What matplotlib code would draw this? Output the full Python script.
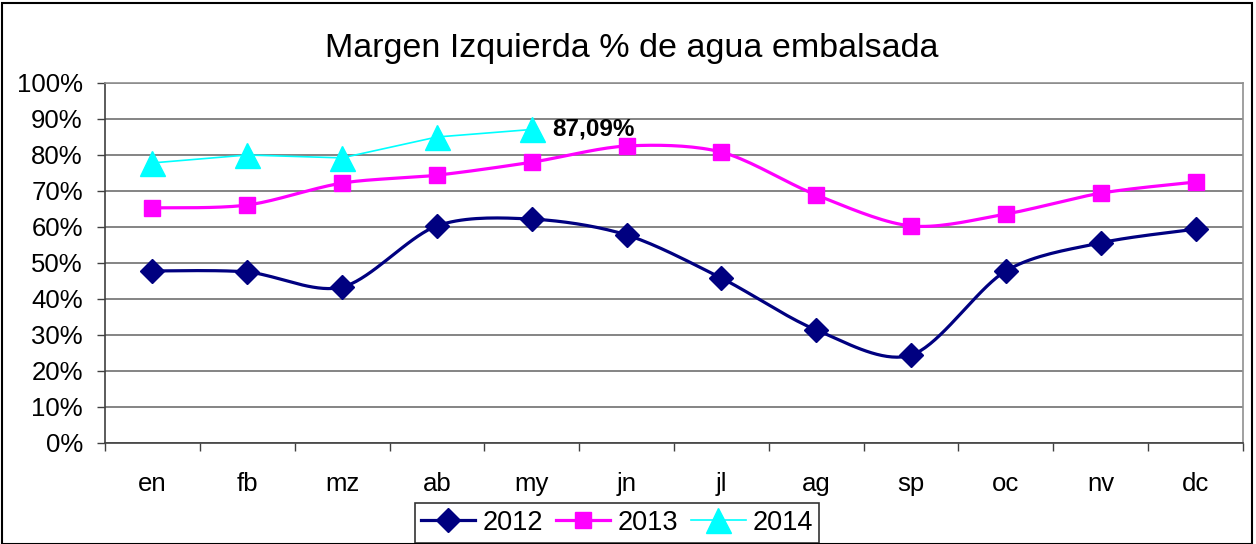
import numpy as np
import matplotlib
matplotlib.use("Agg")
import matplotlib.pyplot as plt
from matplotlib.patches import Rectangle
from matplotlib.lines import Line2D

plt.rcParams['font.family'] = ['Liberation Sans', 'DejaVu Sans']

months = ["en", "fb", "mz", "ab", "my", "jn", "jl", "ag", "sp", "oc", "nv", "dc"]
y2012 = [47.8, 47.5, 43.3, 60.3, 62.2, 57.8, 45.8, 31.4, 24.4, 47.8, 55.6, 59.4]
y2013 = [65.3, 66.1, 72.2, 74.4, 78.0, 82.5, 80.8, 68.9, 60.3, 63.6, 69.4, 72.5]
y2014 = [77.8, 80.0, 79.2, 85.0, 87.09]
yticks = list(range(0, 101, 10))
title = "Margen Izquierda % de agua embalsada"


def smooth(xs, ys, n=20, t=0.45):
    """Bezier rendering curve through the data points (Excel-like smoothing)."""
    xs = np.asarray(xs, float); ys = np.asarray(ys, float)
    px = np.concatenate([[xs[0]], xs, [xs[-1]]])
    py = np.concatenate([[ys[0]], ys, [ys[-1]]])
    ox, oy = [], []
    for i in range(1, len(px) - 2):
        p0 = np.array([px[i - 1], py[i - 1]]); p1 = np.array([px[i], py[i]])
        p2 = np.array([px[i + 1], py[i + 1]]); p3 = np.array([px[i + 2], py[i + 2]])
        c1 = p1 + (p2 - p0) * t / 3
        c2 = p2 - (p3 - p1) * t / 3
        s = np.linspace(0, 1, n)[:, None]
        pts = (1 - s) ** 3 * p1 + 3 * (1 - s) ** 2 * s * c1 + 3 * (1 - s) * s ** 2 * c2 + s ** 3 * p2
        ox.extend(pts[:, 0]); oy.extend(pts[:, 1])
    return ox, oy


W, H = 1256, 544
fig = plt.figure(figsize=(W / 100, H / 100), dpi=100)
fig.patches.append(Rectangle((2 / W, 0), 1 - 6 / W, 1 - 3 / H, transform=fig.transFigure,
                             fill=False, edgecolor="black", linewidth=1.5, zorder=0))

left, right, top, bottom = 105, 1243, 83, 443
ax = fig.add_axes([left / W, 1 - bottom / H, (right - left) / W, (bottom - top) / H])

x = np.arange(len(months))
c12, c13, c14 = "#000080", "#FF00FF", "#00FFFF"

sx, sy = smooth(x, y2012)
ax.plot(sx, sy, color=c12, lw=2.3, zorder=3)
ax.plot(x, y2012, ls="none", marker="D", ms=12, color=c12, zorder=4)

sx, sy = smooth(x, y2013)
ax.plot(sx, sy, color=c13, lw=2.3, zorder=3)
ax.plot(x, y2013, ls="none", marker="s", ms=12, color=c13, zorder=4)

x14 = x[:len(y2014)]
ax.plot(x14, y2014, color=c14, lw=1.2, zorder=3)
ax.plot(x14, y2014, ls="none", marker="^", ms=18, color=c14, zorder=4)

ax.annotate(f"{y2014[-1]:.2f}%".replace(".", ","), (x14[-1], y2014[-1]),
            xytext=(15, 0), textcoords="offset points", ha="left", va="center",
            fontsize=17.5, fontweight="bold")

ax.set_xlim(-0.5, len(months) - 0.5)
ax.set_ylim(0, 100)
ax.set_yticks(yticks)
ax.set_yticklabels([f"{v}%" for v in yticks], fontsize=18.5)
ax.set_xticks(x)
ax.set_xticklabels(months, fontsize=18.5)
ax.set_xticks(np.arange(-0.5, len(months), 1), minor=True)
ax.tick_params(axis="x", which="major", length=0, pad=21)
ax.tick_params(axis="x", which="minor", length=6, width=1, color="#404040", direction="out")
ax.tick_params(axis="y", length=6, width=1, color="#404040", direction="out", pad=10)
ax.grid(axis="y", color="#707070", lw=1.2, zorder=1)
for s in ["top", "right"]:
    ax.spines[s].set_color("#909090"); ax.spines[s].set_linewidth(1.2)
for s in ["left", "bottom"]:
    ax.spines[s].set_color("#404040"); ax.spines[s].set_linewidth(1.2)

fig.text(632 / W, 1 - 48 / H, title, ha="center", va="center", fontsize=24.5)

handles = [Line2D([], [], color=c12, lw=2.3, marker="D", ms=12),
           Line2D([], [], color=c13, lw=2.3, marker="s", ms=12),
           Line2D([], [], color=c14, lw=1.2, marker="^", ms=18)]
leg = fig.legend(handles, ["2012", "2013", "2014"], loc="upper center",
                 bbox_to_anchor=(617 / W, 1 - 503 / H), ncol=3, fontsize=19.5,
                 frameon=True, fancybox=False, edgecolor="black", handlelength=2.0,
                 columnspacing=0.5, handletextpad=0.25, borderpad=0.25, borderaxespad=0)
leg.get_frame().set_linewidth(1.2)

fig.savefig("out.png", dpi=100)
